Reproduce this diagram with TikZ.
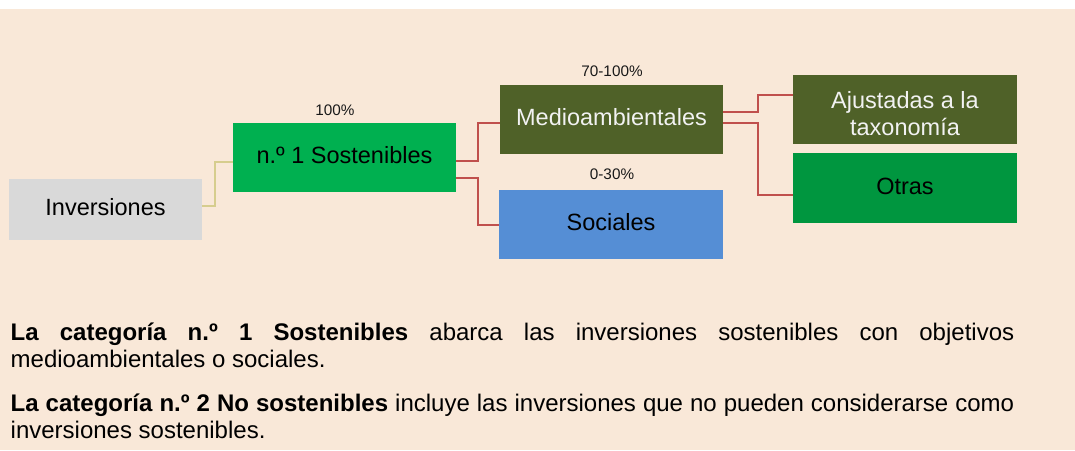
\documentclass[tikz,border=0pt]{standalone}
\usepackage{fontspec}
\setmainfont{Liberation Sans}
\definecolor{bgpeach}{HTML}{F9E8D8}
\definecolor{invgrey}{HTML}{D9D9D9}
\definecolor{sostgreen}{HTML}{00B050}
\definecolor{olivebox}{HTML}{4F6128}
\definecolor{otrasgreen}{HTML}{00963F}
\definecolor{socblue}{HTML}{558ED5}
\definecolor{redline}{HTML}{C0504D}
\definecolor{yelline}{HTML}{D6CD8E}
\definecolor{lighttext}{HTML}{F2F2F2}
\begin{document}
\begin{tikzpicture}[x=1pt,y=-1pt,
  boxnode/.style={rectangle, inner sep=0pt, minimum width=224pt, minimum height=69pt,
    font=\fontsize{23.5}{27}\selectfont, text height=17pt, text depth=5pt},
  pctlabel/.style={inner sep=0pt, font=\fontsize{15.3}{18}\selectfont, anchor=base, text=black!90},
  bodyline/.style={inner sep=0pt, font=\fontsize{24}{27}\selectfont, anchor=base west, text=black},
  yconn/.style={draw=yelline, line width=1.5pt},
  rconn/.style={draw=redline, line width=2pt}
]
\useasboundingbox (0,0) rectangle (1075,450);
\fill[white] (0,0) rectangle (1075,450);
\fill[bgpeach] (0,9) rectangle (1075,450);

% boxes
\node[boxnode, fill=invgrey, minimum width=193pt, minimum height=61pt, text=black] (inv) at (105.5,209.5) {Inversiones};
\node[boxnode, fill=sostgreen, minimum width=223pt, text=black] (sost) at (344.5,157.5) {n.º 1 Sostenibles};
\node[boxnode, fill=olivebox, minimum width=223pt, text=lighttext] (medio) at (611.5,119.5) {Medioambientales};
\node[boxnode, fill=socblue, text=black] (soc) at (611,224.5) {Sociales};
\node[boxnode, fill=olivebox, text=lighttext, text height=17pt, text depth=19.4pt] (ajus) at (905,109.5)
  {\parbox[t]{220pt}{\centering\fontsize{23.5}{26.7}\selectfont Ajustadas a la\\ taxonomía}};
\node[boxnode, fill=otrasgreen, minimum height=70pt, text=black] (otras) at (905,188) {Otras};

% percentage labels
\node[pctlabel] (p100) at (335,115) {100\%};
\node[pctlabel] (p70) at (612,76) {70-100\%};
\node[pctlabel] (p30) at (612,179.7) {0-30\%};

% connectors
\draw[yconn] ([yshift=3.5pt]inv.east) -- ++(13,0) |- ([yshift=-4.5pt]sost.west);
\draw[rconn] ([yshift=-3.5pt]sost.east) -- ++(22,0) |- ([yshift=-3.5pt]medio.west);
\draw[rconn] ([yshift=-20.5pt]sost.east) -- ++(22,0) |- (soc.west);
\draw[rconn] ([yshift=7.5pt]medio.east) -- ++(35,0) |- ([yshift=14.5pt]ajus.west);
\draw[rconn] ([yshift=-3.5pt]medio.east) -- ++(35,0) |- ([yshift=-7pt]otras.west);

% body text
\node[bodyline] (t1) at (10.5,340) {\makebox[1003.5pt][s]{\textbf{La categoría n.º 1 Sostenibles} abarca las inversiones sostenibles con objetivos}};
\node[bodyline] (t2) at (10.5,367) {medioambientales o sociales.};
\node[bodyline] (t3) at (10.5,411) {\makebox[1003.5pt][s]{\textbf{La categoría n.º 2 No sostenibles} incluye las inversiones que no pueden considerarse como}};
\node[bodyline] (t4) at (10.5,438) {inversiones sostenibles.};
\end{tikzpicture}
\end{document}
